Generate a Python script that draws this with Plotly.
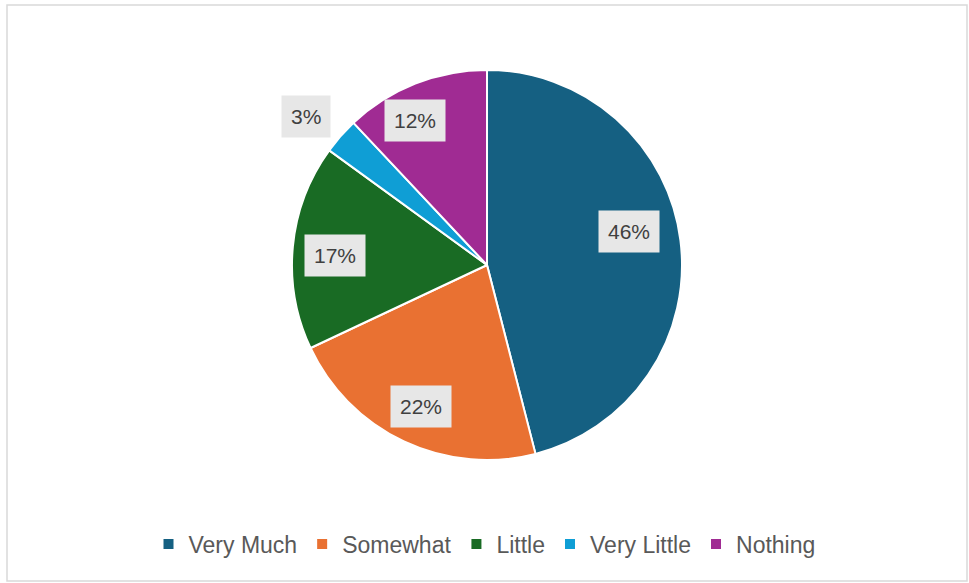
import math
import plotly.graph_objects as go

# data
categories = ['Very Much', 'Somewhat', 'Little', 'Very Little', 'Nothing']
shares = [46, 22, 17, 3, 12]
colors = ['#156082', '#E97132', '#196B24', '#0F9ED5', '#A02B93']

# label placement (radius fraction, angle nudge in degrees)
label_radius = [0.75, 0.80, 0.78, 1.20, 0.83]
label_nudge = [-6, 0, -2, -2, -5]

W, H = 969, 583
cx, cy, R = 487, 265, 195  # pie centre / radius in pixels

fig = go.Figure(go.Pie(
    labels=categories,
    values=shares,
    sort=False,
    direction='clockwise',
    rotation=0,
    marker=dict(colors=colors, line=dict(color='white', width=2)),
    textinfo='none',
    domain=dict(x=[(cx - R) / W, (cx + R) / W], y=[1 - (cy + R) / H, 1 - (cy - R) / H]),
))

# percentage labels in grey boxes, placed from the cumulative shares
total = sum(shares)
cum = 0
annotations = []
for i, v in enumerate(shares):
    mid = (cum + v / 2) / total * 360 + label_nudge[i]
    cum += v
    r = R * label_radius[i]
    px_ = cx + r * math.sin(math.radians(mid))
    py_ = cy - r * math.cos(math.radians(mid))
    annotations.append(dict(
        x=px_ / W, y=1 - py_ / H, xref='paper', yref='paper',
        xanchor='center', yanchor='middle',
        text=f'{round(v / total * 100)}%', showarrow=False,
        font=dict(size=21, color='#404040', family='Liberation Sans, Arial, sans-serif'),
        bgcolor='#E7E7E7', borderpad=9,
    ))

fig.update_layout(
    width=W, height=H,
    margin=dict(l=0, r=0, t=0, b=0),
    paper_bgcolor='white',
    annotations=annotations,
    showlegend=True,
    legend=dict(
        orientation='h', x=0.5, xanchor='center', y=1 - 544 / H, yanchor='middle',
        font=dict(size=23, color='#595959', family='Liberation Sans, Arial, sans-serif'),
        itemwidth=30,
    ),
    shapes=[dict(type='rect', xref='paper', yref='paper',
                 x0=7 / W, x1=967 / W, y0=1 - 581 / H, y1=1 - 5 / H,
                 line=dict(color='#D9D9D9', width=1.5), fillcolor='rgba(0,0,0,0)')],
)

fig.write_html('out.html', config={'displayModeBar': False},
               post_script="document.body.style.margin='0px';")
